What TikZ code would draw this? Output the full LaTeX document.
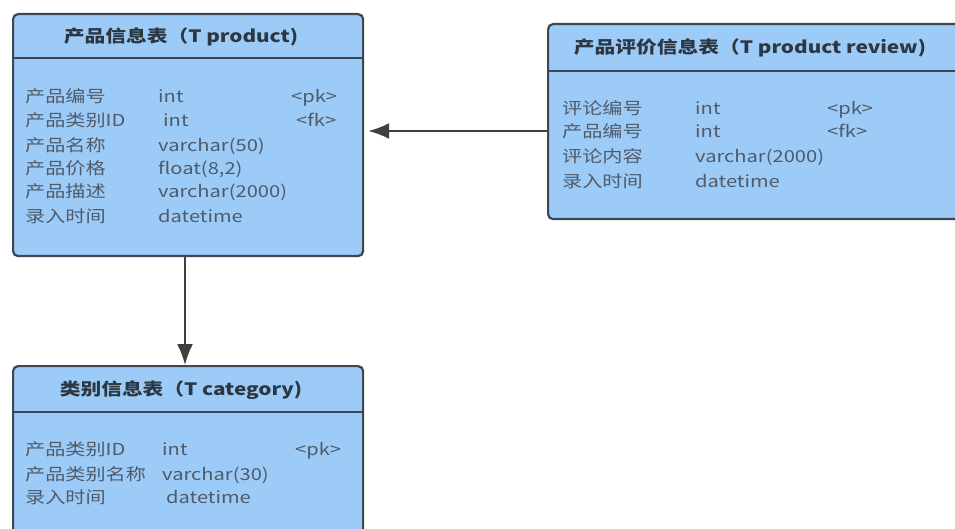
\documentclass[tikz,border=0pt]{standalone}
\usepackage{fontspec}
\setmainfont[FakeStretch=1.22]{Noto Sans CJK SC}
\usetikzlibrary{arrows.meta}
\definecolor{boxfill}{HTML}{9DCBF8}
\definecolor{boxline}{HTML}{3B4754}
\definecolor{bodytxt}{HTML}{4F5B68}
\definecolor{headtxt}{HTML}{2C3742}
\definecolor{arrcol}{HTML}{404040}
\begin{document}
\begin{tikzpicture}[x=1pt,y=-1pt,
  tablebox/.style={draw=boxline,line width=2.2pt,fill=boxfill,rounded corners=5pt,
    rectangle,anchor=north west,inner sep=0pt},
  headline/.style={draw=boxline,line width=2.2pt},
  headtext/.style={font=\fontsize{17}{20}\selectfont\bfseries,text=headtxt,inner sep=0pt},
  cell/.style={font=\fontsize{16.5}{19}\selectfont,text=bodytxt,anchor=base west,inner sep=0pt},
  arr/.style={draw=arrcol,line width=2pt,-{Latex[length=21pt,width=16pt]}}]
\useasboundingbox (0,0) rectangle (955,529);
\fill[white] (0,0) rectangle (955,529);
% boxes
\node[tablebox,minimum width=350pt,minimum height=242pt] (p) at (12,13) {};
\node[tablebox,minimum width=430pt,minimum height=195pt] (r) at (547,23) {};
\node[tablebox,minimum width=350pt,minimum height=190pt] (c) at (12,365) {};
% header lines
\coordinate (hp) at (0,58);
\coordinate (hr) at (0,71);
\coordinate (hc) at (0,412);
\draw[headline] (p.west |- hp) -- (p.east |- hp);
\draw[headline] (r.west |- hr) -- (r.east |- hr);
\draw[headline] (c.west |- hc) -- (c.east |- hc);
% headers
\node[headtext] (pt) at (181,37) {产品信息表（T product)};
\node[headtext] (rt) at (750,48) {产品评价信息表（T product review)};
\node[headtext] (ct) at (181,390) {类别信息表（T category)};
% product rows
\node[cell] (p1a) at (25,103) {产品编号};
\node[cell] (p1b) at (158,103) {int};
\node[cell] (p1c) at (291,103) {<pk>};
\node[cell] (p2a) at (25,127) {产品类别ID};
\node[cell] (p2b) at (163,127) {int};
\node[cell] (p2c) at (296,127) {<fk>};
\node[cell] (p3a) at (25,152) {产品名称};
\node[cell] (p3b) at (158,152) {varchar(50)};
\node[cell] (p4a) at (25,175) {产品价格};
\node[cell] (p4b) at (158,175) {float(8,2)};
\node[cell] (p5a) at (25,198) {产品描述};
\node[cell] (p5b) at (158,198) {varchar(2000)};
\node[cell] (p6a) at (25,223) {录入时间};
\node[cell] (p6b) at (158,223) {datetime};
% review rows
\node[cell] (r1a) at (562,115) {评论编号};
\node[cell] (r1b) at (695,115) {int};
\node[cell] (r1c) at (827,115) {<pk>};
\node[cell] (r2a) at (562,138) {产品编号};
\node[cell] (r2b) at (695,138) {int};
\node[cell] (r2c) at (827,138) {<fk>};
\node[cell] (r3a) at (562,163) {评论内容};
\node[cell] (r3b) at (695,163) {varchar(2000)};
\node[cell] (r4a) at (562,188) {录入时间};
\node[cell] (r4b) at (695,188) {datetime};
% category rows
\node[cell] (c1a) at (25,455) {产品类别ID};
\node[cell] (c1b) at (162,455) {int};
\node[cell] (c1c) at (295,455) {<pk>};
\node[cell] (c2a) at (25,480) {产品类别名称};
\node[cell] (c2b) at (162,480) {varchar(30)};
\node[cell] (c3a) at (25,503) {录入时间};
\node[cell] (c3b) at (166,503) {datetime};
% connectors
\coordinate (ha) at (0,131);
\coordinate (va) at (185,0);
\draw[arr] (r.west |- ha) -- ([xshift=4pt]p.east |- ha);
\draw[arr] (p.south -| va) -- (c.north -| va);
\end{tikzpicture}
\end{document}
